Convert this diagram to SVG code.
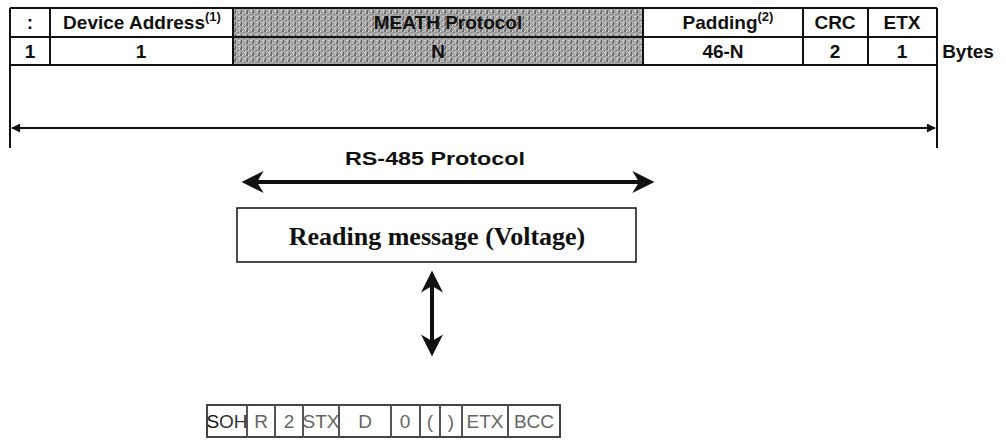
<svg xmlns="http://www.w3.org/2000/svg" width="1006" height="442" viewBox="0 0 1006 442">
<defs>
<style>
.t{font-family:"Liberation Sans",Arial,sans-serif;font-weight:bold;font-size:19px;fill:#111;text-anchor:middle}
.sup{font-size:13px}
.ln{stroke:#111;stroke-width:2;fill:none}
.b{font-family:"Liberation Sans",Arial,sans-serif;font-size:19px;fill:#666;text-anchor:middle}
.bl{stroke:#555;stroke-width:2;fill:none}
</style>
<pattern id="noise" width="6" height="6" patternUnits="userSpaceOnUse">
<rect width="6" height="6" fill="#a8a8a8"/>
<rect x="0" y="0" width="2" height="2" fill="#707070"/>
<rect x="3" y="2" width="2" height="1" fill="#858585"/>
<rect x="1" y="4" width="1" height="2" fill="#606060"/>
<rect x="4" y="4" width="2" height="1" fill="#d0d0d0"/>
<rect x="2" y="1" width="1" height="1" fill="#e0e0e0"/>
<rect x="5" y="0" width="1" height="1" fill="#dcdcdc"/>
</pattern>
<marker id="ah" viewBox="0 0 10 10" refX="9" refY="5" markerWidth="11" markerHeight="9" orient="auto-start-reverse" markerUnits="userSpaceOnUse">
<path d="M0,0 L10,5 L0,10 z" fill="#111"/>
</marker>
<marker id="ahb" viewBox="0 0 10 10" refX="8" refY="5" markerWidth="5.5" markerHeight="5.5" orient="auto-start-reverse">
<path d="M0,0 L10,5 L0,10 L3,5 z" fill="#111"/>
</marker>
</defs>
<rect width="1006" height="442" fill="#fff"/>

<g id="frame-table">
<rect x="233" y="8" width="410" height="57" fill="url(#noise)"/>
<path class="ln" d="M10,8 H937 M10,37 H937 M10,65 H937 M10,8 V148 M50,8 V65 M233,8 V65 M643,8 V65 M803,8 V65 M868,8 V65 M937,8 V148"/>
<text class="t" x="30" y="29">:</text>
<text class="t" x="142" y="29">Device Address<tspan class="sup" dy="-8">(1)</tspan></text>
<text class="t" x="448" y="29" fill="#444">MEATH Protocol</text>
<text class="t" x="728" y="29">Padding<tspan class="sup" dy="-8">(2)</tspan></text>
<text class="t" x="835" y="29">CRC</text>
<text class="t" x="902" y="29">ETX</text>
<text class="t" x="30" y="58">1</text>
<text class="t" x="141" y="58">1</text>
<text class="t" x="438" y="58" fill="#333">N</text>
<text class="t" x="723" y="58">46-N</text>
<text class="t" x="835" y="58">2</text>
<text class="t" x="902" y="58">1</text>
<text class="t" x="968" y="58">Bytes</text>
</g>

<g id="connectors">
<line class="ln" x1="12" y1="128" x2="935" y2="128" marker-start="url(#ah)" marker-end="url(#ah)"/>
<line x1="246" y1="182" x2="650" y2="182" stroke="#111" stroke-width="4" marker-start="url(#ahb)" marker-end="url(#ahb)"/>
<line x1="432" y1="275" x2="432" y2="352" stroke="#111" stroke-width="4" marker-start="url(#ahb)" marker-end="url(#ahb)"/>
</g>

<g id="rs485-label">
<text class="t" x="435" y="165" font-size="22" textLength="180" lengthAdjust="spacingAndGlyphs">RS-485 Protocol</text>
</g>

<g id="reading-box">
<rect x="237" y="208" width="399" height="54" fill="#fff" stroke="#111" stroke-width="1.5"/>
<text x="437" y="245" font-family="'Liberation Serif','Times New Roman',serif" font-weight="bold" font-size="26" fill="#111" text-anchor="middle">Reading message (Voltage)</text>
</g>

<g id="message-bytes">
<rect x="207" y="405" width="353" height="32" fill="#fff" stroke="#444" stroke-width="2"/>
<path class="bl" d="M247,405 V437 M275,405 V437 M303,405 V437 M339,405 V437 M391,405 V437 M420,405 V437 M440,405 V437 M462,405 V437 M508,405 V437"/>
<text class="b" x="227" y="428"><tspan fill="#111">S</tspan><tspan fill="#333">OH</tspan></text>
<text class="b" x="261" y="428">R</text>
<text class="b" x="289" y="428">2</text>
<text class="b" x="321" y="428">STX</text>
<text class="b" x="365" y="428">D</text>
<text class="b" x="405" y="428">0</text>
<text class="b" x="430" y="428">(</text>
<text class="b" x="451" y="428">)</text>
<text class="b" x="485" y="428">ETX</text>
<text class="b" x="534" y="428" fill="#aaa">BCC</text>
</g>
</svg>
